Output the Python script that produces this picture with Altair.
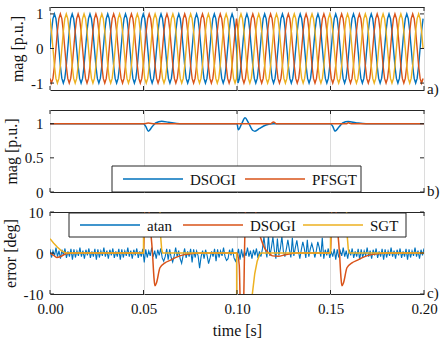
import altair as alt
import pandas as pd

T_MAX = 0.2
BLUE, ORANGE, YELLOW = "#0072BD", "#D95319", "#EDB120"
FRAME = "#262626"
TEXT = "#111111"
FONT = "Liberation Serif"

# ---------------- a) three-phase voltages ----------------
period = 0.0095                      # s, one cycle of the grid voltage
wave_cycle = [0.0, 0.5, 0.866, 1.0, 0.866, 0.5, 0.0, -0.5, -0.866, -1.0, -0.866, -0.5]
phase_names = ["va", "vb", "vc"]
phase_shift = [0, -4, 4]             # 120 deg = 4 samples of wave_cycle
jump_time = 0.1                      # phase jump event
jump_steps = 2                       # 60 deg

# ---------------- b) magnitude estimates ----------------
dsogi_mag_t = [0.0, 0.05, 0.0512, 0.0526, 0.0545, 0.0565, 0.0597, 0.0635, 0.0695,
               0.1, 0.1007, 0.1025, 0.1043, 0.106, 0.1085, 0.1096, 0.112, 0.1155, 0.1194,
               0.15, 0.1512, 0.1524, 0.1545, 0.1565, 0.1595, 0.1635, 0.169, 0.2]
dsogi_mag_v = [1.0, 1.0, 0.96, 0.89, 0.95, 1.01, 1.035, 1.02, 1.0,
               1.0, 0.91, 1.0, 1.085, 1.02, 0.90, 0.89, 0.93, 0.98, 1.0,
               1.0, 0.96, 0.89, 0.95, 1.01, 1.03, 1.015, 1.0, 1.0]
pfsgt_mag_t = [0.0, 0.05, 0.0525, 0.056, 0.06, 0.1, 0.118, 0.1195, 0.121, 0.15, 0.1585, 0.1595, 0.161, 0.2]
pfsgt_mag_v = [1.0, 1.0, 1.008, 1.0, 1.0, 1.0, 1.0, 1.025, 1.0, 1.0, 1.0, 1.012, 1.0, 1.0]

# ---------------- c) phase-angle errors ----------------
atan_dt = 0.0008
atan_ripple = [0.9, -1.1, 0.5, -0.7, 1.3, -0.9, 0.6, -1.4, 0.8, -0.6, 1.1, -1.2, 0.4, -0.9, 1.0, -1.6]
atan_spike_t = [0.0508, 0.0606, 0.0659, 0.0704, 0.0758, 0.0802, 0.0847, 0.0891, 0.0945, 0.099,
                0.1141, 0.1164, 0.1189, 0.1216, 0.1242, 0.1269, 0.1296, 0.1323, 0.1349,
                0.1376, 0.1403, 0.1429, 0.1456]
atan_spike_v = [-2.3, -2.0, -2.2, -2.5, -2.3, -3.7, -2.6, -2.0, -1.8, -2.0,
                3.9, 4.3, 3.9, 3.5, 4.0, 3.2, 3.7, 3.1, 2.7, 3.2, 2.3, 2.7, 3.7]

dsogi_err_t = [0.0, 0.002, 0.0036, 0.006, 0.009, 0.012, 0.05, 0.0503, 0.051, 0.052, 0.053,
               0.0548, 0.0556, 0.0561, 0.057, 0.0588, 0.0615, 0.0642, 0.0677, 0.072, 0.08,
               0.1, 0.1012, 0.1018, 0.1025, 0.1035, 0.104, 0.1048, 0.106, 0.109, 0.1112,
               0.1125, 0.115, 0.117, 0.119, 0.122, 0.126, 0.132,
               0.15, 0.1503, 0.151, 0.152, 0.153, 0.1548, 0.1556, 0.1561, 0.157, 0.1588,
               0.1615, 0.1642, 0.1677, 0.172, 0.18, 0.2]
dsogi_err_v = [0.0, -0.6, -1.1, -0.8, -0.1, 0.0, 0.0, 4.0, 16.0, 18.0, 10.0,
               0.0, -6.0, -8.0, -7.2, -3.6, -2.4, -1.8, -1.0, -0.4, 0.0,
               0.0, -3.0, -14.0, -20.0, -14.0, 0.0, 14.0, 22.0, 14.0, 6.0,
               3.9, 1.0, 0.0, -0.7, -0.8, -0.4, 0.0,
               0.0, 4.0, 16.0, 18.0, 10.0, 0.0, -6.0, -8.0, -7.2, -3.6,
               -2.4, -1.8, -1.0, -0.4, 0.0, 0.0]

sgt_err_t = [0.0, 0.002, 0.004, 0.006, 0.008, 0.009, 0.05, 0.0501, 0.0585, 0.059, 0.0597, 0.0602,
             0.0998, 0.0999, 0.1072, 0.1082, 0.1095, 0.1108, 0.112, 0.1128,
             0.15, 0.1501, 0.1582, 0.1588, 0.1595, 0.16, 0.2]
sgt_err_v = [3.5, 2.4, 1.4, 0.6, 0.1, 0.0, 0.0, 20.0, 20.0, 5.0, 1.0, 0.0,
             0.0, -25.0, -25.0, -10.0, -5.0, -2.0, -0.5, 0.0,
             0.0, 20.0, 20.0, 5.0, 1.0, 0.0, 0.0]

x_ticks = [0.0, 0.05, 0.1, 0.15, 0.2]

# ---------------- tables ----------------
dt_a = period / len(wave_cycle)
n_a = int(T_MAX / dt_a) + 1
rows = []
for name, shift in zip(phase_names, phase_shift):
    for k in range(n_a):
        t = k * dt_a
        idx = k + shift + (jump_steps if t >= jump_time else 0)
        rows.append({"t": t, "v": wave_cycle[idx % len(wave_cycle)], "phase": name})
df_a = pd.DataFrame(rows)

n_atan = int(round(T_MAX / atan_dt)) + 1
atan_v = [atan_ripple[k % len(atan_ripple)] for k in range(n_atan)]
for ts, vs in zip(atan_spike_t, atan_spike_v):
    atan_v[int(round(ts / atan_dt))] = vs
df_atan = pd.DataFrame({"t": [k * atan_dt for k in range(n_atan)], "v": atan_v})
df_dsogi_err = pd.DataFrame({"t": dsogi_err_t, "v": dsogi_err_v})
df_sgt_err = pd.DataFrame({"t": sgt_err_t, "v": sgt_err_v})
df_dsogi_mag = pd.DataFrame({"t": dsogi_mag_t, "v": dsogi_mag_v})
df_pfsgt_mag = pd.DataFrame({"t": pfsgt_mag_t, "v": pfsgt_mag_v})

W = 374
H_A, H_B, H_C = 83, 82, 82
x_scale = alt.Scale(domain=[0, T_MAX], nice=False, zero=False)
font_kw = dict(labelFont=FONT, titleFont=FONT, labelFontSize=15, titleFontSize=16,
               titleFontWeight="normal", labelColor=TEXT, titleColor=TEXT,
               gridColor="#dcdcdc", gridWidth=1, ticks=False, domain=False)


def x_axis(show):
    if show:
        return alt.Axis(values=x_ticks, format=".2f", title="time [s]", grid=True,
                        labelFlush=False, labelPadding=7, titlePadding=6, **font_kw)
    return alt.Axis(values=x_ticks, labels=False, title=None, grid=True, **font_kw)


def y_axis(values, title):
    return alt.Axis(values=values, labelExpr="'' + datum.value", title=title, grid=False,
                    labelPadding=7, titlePadding=5, **font_kw)


def inward_ticks(y_vals, y_scale, h):
    xt = alt.Chart(pd.DataFrame({"t": x_ticks})).mark_rule(color=FRAME, strokeWidth=1)
    yt = alt.Chart(pd.DataFrame({"v": y_vals})).mark_rule(color=FRAME, strokeWidth=1)
    return [
        xt.encode(x=alt.X("t:Q", scale=x_scale), y=alt.value(0), y2=alt.value(4)),
        xt.encode(x=alt.X("t:Q", scale=x_scale), y=alt.value(h), y2=alt.value(h - 4)),
        yt.encode(y=alt.Y("v:Q", scale=y_scale), x=alt.value(0), x2=alt.value(4)),
        yt.encode(y=alt.Y("v:Q", scale=y_scale), x=alt.value(W), x2=alt.value(W - 4)),
    ]


def tag(text, h):
    return alt.Chart(pd.DataFrame({"tag": [text]})).mark_text(
        align="left", baseline="middle", font=FONT, fontSize=15, color=TEXT
    ).encode(text="tag:N", x=alt.value(W + 3), y=alt.value(h - 1))


def legend_box(names, colors, box, sym_x, y_mid):
    """Framed legend drawn from marks: box = (x0, x1, y0, y1); sym_x = line start per entry."""
    x0, x1, y0, y1 = box
    parts = [alt.Chart(pd.DataFrame({"k": [0]})).mark_rect(
        fill="white", stroke=FRAME, strokeWidth=1
    ).encode(x=alt.value(x0), x2=alt.value(x1), y=alt.value(y0), y2=alt.value(y1))]
    for name, col, sx in zip(names, colors, sym_x):
        one = alt.Chart(pd.DataFrame({"label": [name]}))
        parts.append(one.mark_rule(color=col, strokeWidth=1.5).encode(
            x=alt.value(sx), x2=alt.value(sx + 60), y=alt.value(y_mid)))
        parts.append(one.mark_text(align="left", baseline="middle", font=FONT, fontSize=15,
                                   color=TEXT).encode(
            text="label:N", x=alt.value(sx + 67), y=alt.value(y_mid + 1)))
    return parts


# a)
ys_a = alt.Scale(domain=[-1.2, 1.2], nice=False, zero=False)
lines_a = alt.Chart(df_a).mark_line(strokeWidth=1.4, clip=True).encode(
    x=alt.X("t:Q", scale=x_scale, axis=x_axis(False)),
    y=alt.Y("v:Q", scale=ys_a, axis=y_axis([-1, 0, 1], "mag [p.u.]")),
    color=alt.Color("phase:N", scale=alt.Scale(domain=phase_names, range=[BLUE, ORANGE, YELLOW]),
                    legend=None),
)
panel_a = alt.layer(lines_a, *inward_ticks([-1, 0, 1], ys_a, H_A), tag("a)", H_A)).properties(
    width=W, height=H_A)

# b)
ys_b = alt.Scale(domain=[0, 1.2], nice=False, zero=False)


def line_b(df, col):
    return alt.Chart(df).mark_line(strokeWidth=1.5, clip=True, interpolate="monotone",
                                   color=col).encode(
        x=alt.X("t:Q", scale=x_scale, axis=x_axis(False)),
        y=alt.Y("v:Q", scale=ys_b, axis=y_axis([0, 0.5, 1], "mag [p.u.]")),
    )


panel_b = alt.layer(line_b(df_dsogi_mag, BLUE), line_b(df_pfsgt_mag, ORANGE),
                    *inward_ticks([0, 0.5, 1], ys_b, H_B),
                    *legend_box(["DSOGI", "PFSGT"], [BLUE, ORANGE], (62, 311, 56, H_B), [73, 195], 69),
                    tag("b)", H_B)).properties(width=W, height=H_B)

# c)
ys_c = alt.Scale(domain=[-10, 10], nice=False, zero=False)


def line_c(df, col, sw, interp):
    return alt.Chart(df).mark_line(strokeWidth=sw, clip=True, interpolate=interp,
                                   color=col).encode(
        x=alt.X("t:Q", scale=x_scale, axis=x_axis(True)),
        y=alt.Y("v:Q", scale=ys_c, axis=y_axis([-10, 0, 10], "error [deg]")),
    )


panel_c = alt.layer(line_c(df_atan, BLUE, 1.1, "linear"),
                    line_c(df_dsogi_err, ORANGE, 1.5, "monotone"),
                    line_c(df_sgt_err, YELLOW, 1.5, "linear"),
                    *inward_ticks([-10, 0, 10], ys_c, H_C),
                    *legend_box(["atan", "DSOGI", "SGT"], [BLUE, ORANGE, YELLOW],
                                (19, 356, 1, 25), [30, 133, 253], 13),
                    tag("c)", H_C)).properties(width=W, height=H_C)

chart = alt.vconcat(panel_a, panel_b, panel_c, spacing=20, bounds="flush").properties(
    padding={"left": 1, "top": 6, "right": 2, "bottom": 1}
).configure(
    background="white", font=FONT
).configure_view(
    stroke=FRAME, strokeWidth=1
)

chart.save("out.html", embed_options={"renderer": "svg", "actions": False})
